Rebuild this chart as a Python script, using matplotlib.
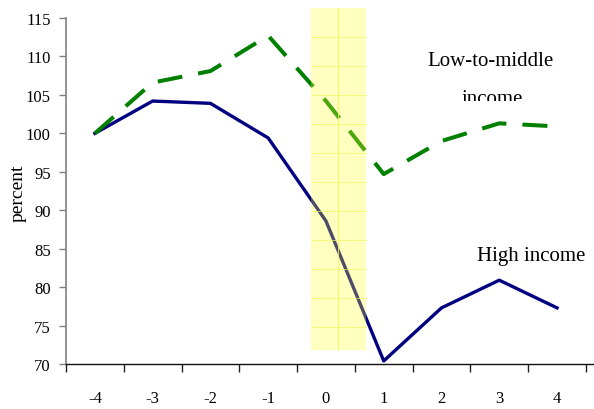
import numpy as np
import matplotlib
matplotlib.use('Agg')
import matplotlib.pyplot as plt
from matplotlib.patches import Rectangle
from matplotlib.transforms import Bbox, TransformedBbox

plt.rcParams['font.family'] = ['Liberation Serif', 'DejaVu Serif']

# ── data ──────────────────────────────────────────────────────────────────────
years = ['-4', '-3', '-2', '-1', '0', '1', '2', '3', '4']
high_income = [100.0, 104.2, 103.9, 99.4, 88.6, 70.4, 77.3, 80.9, 77.3]
low_middle = [100.0, 106.6, 108.1, 112.7, 104.2, 94.7, 99.0, 101.3, 100.9]

x = np.arange(len(years))

fig = plt.figure(figsize=(5.94, 4.10), dpi=100)
ax = fig.add_axes([66 / 594, 45 / 410, 1 - 66 / 594, (365 - 19) / 410])

ax.plot(x, high_income, color='#000080', lw=2.4, solid_joinstyle='round', zorder=2)
ax.plot(x, low_middle, color='#008000', lw=2.9, dashes=(6.2, 4.0), zorder=2)

# shaded crisis window (drawn on top, semi-transparent, with a faint grid)
band_x0, band_x1 = 3.74, 4.69
band_y0, band_y1 = 71.8, 116.3
ax.add_patch(Rectangle((band_x0, band_y0), band_x1 - band_x0, band_y1 - band_y0,
                       facecolor='#ffff30', alpha=0.3, edgecolor='none',
                       clip_on=False, zorder=3))
for yy in np.arange(band_y1 - 3.75, band_y0, -3.78):
    ax.plot([band_x0, band_x1], [yy, yy], color='#f5f560', lw=0.6, alpha=0.8,
            clip_on=False, zorder=3)
ax.plot([(band_x0 + band_x1) / 2] * 2, [band_y0, band_y1], color='#f5f560',
        lw=0.8, alpha=0.8, clip_on=False, zorder=3)

ax.set_xlim(-0.5, 8.64)
ax.set_ylim(70, 115)
ax.set_yticks(np.arange(70, 116, 5))

ax.set_xticks(np.arange(-0.5, 9, 1))
ax.set_xticklabels([])
ax.set_xticks(x, minor=True)
ax.set_xticklabels(years, minor=True)
ax.tick_params(axis='x', which='major', length=6, width=1, color='#222222', direction='out')
ax.tick_params(axis='x', which='minor', length=0, pad=19, labelsize=12)
ax.tick_params(axis='y', length=5, width=1, color='#808080', pad=6, labelsize=12)

for side in ['top', 'right']:
    ax.spines[side].set_visible(False)
ax.spines['left'].set_color('#808080')
ax.spines['left'].set_linewidth(1.2)
ax.spines['bottom'].set_color('#111111')
ax.spines['bottom'].set_linewidth(1.0)

fig.text(18 / 594, 1 - 193 / 410, 'percent', fontsize=14, rotation=90,
         ha='center', va='center')

fig.text(491 / 594, 1 - 62 / 410, 'Low-to-middle', fontsize=15,
         ha='center', va='center')
t = fig.text(492 / 594, 1 - 104 / 410, 'income', fontsize=15,
             ha='center', va='baseline', clip_on=True)
t.set_clip_box(TransformedBbox(Bbox([[0.6, 1 - 102 / 410], [1.0, 1 - 80 / 410]]),
                               fig.transFigure))
fig.text(531 / 594, 1 - 256 / 410, 'High income', fontsize=15,
         ha='center', va='center')

fig.savefig('out.png', dpi=100)
